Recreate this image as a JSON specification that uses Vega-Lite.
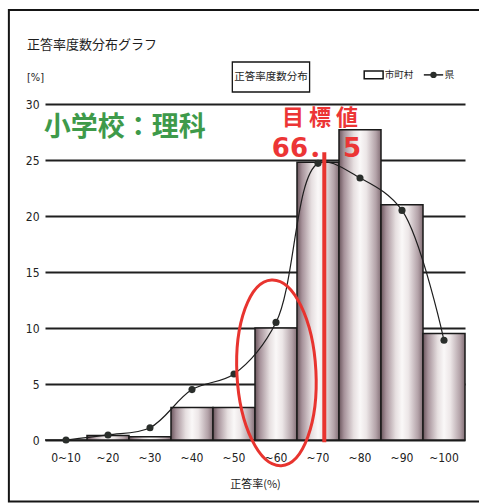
{
  "$schema": "https://vega.github.io/schema/vega-lite/v6.json",
  "width": 420,
  "height": 336,
  "autosize": {"type": "none"},
  "padding": {"left": 45, "top": 104, "right": 14, "bottom": 63},
  "background": "white",
  "config": {
    "view": {"stroke": null},
    "font": "Noto Sans CJK JP",
    "axisY": {
      "values": [0, 5, 10, 15, 20, 25, 30],
      "grid": true,
      "gridColor": "#1f1f1f",
      "gridWidth": 1.8,
      "domain": false,
      "ticks": false,
      "labelFont": "Liberation Sans Narrow, DejaVu Sans Condensed, sans-serif",
      "labelFontSize": 12,
      "labelColor": "#222",
      "labelPadding": 6
    }
  },
  "layer": [
    {
      "data": {
        "values": [
          {"range": "0~10", "city": 0, "pref": 0},
          {"range": "~20", "city": 0.4, "pref": 0.45},
          {"range": "~30", "city": 0.3, "pref": 1.1},
          {"range": "~40", "city": 2.9, "pref": 4.5},
          {"range": "~50", "city": 2.9, "pref": 5.9},
          {"range": "~60", "city": 10.0, "pref": 10.5},
          {"range": "~70", "city": 24.8, "pref": 24.7},
          {"range": "~80", "city": 27.7, "pref": 23.4},
          {"range": "~90", "city": 21.0, "pref": 20.5},
          {"range": "~100", "city": 9.5, "pref": 8.9}
        ]
      },
      "encoding": {
        "x": {
          "field": "range",
          "type": "ordinal",
          "sort": null,
          "scale": {"paddingInner": 0, "paddingOuter": 0},
          "axis": {
            "title": "正答率(%)",
            "labelAngle": 0,
            "ticks": false,
            "domain": false,
            "labelPadding": 12,
            "labelFont": "Liberation Sans Narrow, DejaVu Sans Condensed, sans-serif",
            "labelFontSize": 12,
            "labelColor": "#222",
            "titleFont": "Noto Sans CJK JP",
            "titleFontSize": 11,
            "titleFontWeight": "normal",
            "titleColor": "#222",
            "titlePadding": 15
          }
        }
      },
      "layer": [
        {
          "mark": {
            "type": "bar",
            "stroke": "#1a1a1a",
            "strokeWidth": 1.5,
            "fill": {
              "gradient": "linear",
              "x1": 0, "y1": 0, "x2": 1, "y2": 0,
              "stops": [
                {"offset": 0, "color": "#6b565d"},
                {"offset": 0.12, "color": "#a6929a"},
                {"offset": 0.35, "color": "#e6dfe0"},
                {"offset": 0.5, "color": "#faf8f8"},
                {"offset": 0.65, "color": "#ece6e7"},
                {"offset": 0.88, "color": "#b3a2a8"},
                {"offset": 1, "color": "#836f76"}
              ]
            }
          },
          "encoding": {
            "y": {"field": "city", "type": "quantitative", "scale": {"domain": [0, 30], "nice": false}, "axis": {"title": null}}
          }
        },
        {
          "mark": {"type": "line", "interpolate": "catmull-rom", "color": "#1e1e1e", "strokeWidth": 1.2},
          "encoding": {
            "y": {"field": "pref", "type": "quantitative", "scale": {"domain": [0, 30], "nice": false}, "axis": {"title": null}}
          }
        },
        {
          "mark": {"type": "point", "filled": true, "color": "#2a2e2b", "size": 50, "opacity": 1},
          "encoding": {
            "y": {"field": "pref", "type": "quantitative", "scale": {"domain": [0, 30], "nice": false}, "axis": {"title": null}}
          }
        }
      ]
    },
    {
      "data": {"values": [{}]},
      "layer": [
        {
          "mark": {"type": "rect", "fill": null, "stroke": "#151515", "strokeWidth": 2},
          "encoding": {
            "x": {"datum": -8.6, "type": "quantitative", "scale": {"domain": [0, 100]}, "axis": null},
            "x2": {"datum": 110},
            "y": {"datum": 38.4, "type": "quantitative", "scale": {"domain": [0, 30], "nice": false}, "axis": null},
            "y2": {"datum": -5.5}
          }
        },
        {
          "mark": {"type": "text", "text": "正答率度数分布グラフ", "font": "Noto Sans CJK JP", "fontSize": 13, "color": "#1e1e1e", "align": "left", "baseline": "middle"},
          "encoding": {
            "x": {"datum": -4.3, "type": "quantitative", "scale": {"domain": [0, 100]}, "axis": null},
            "y": {"datum": 35.27, "type": "quantitative", "scale": {"domain": [0, 30], "nice": false}, "axis": null}
          }
        },
        {
          "mark": {"type": "text", "text": "[%]", "font": "Liberation Sans Narrow, DejaVu Sans Condensed, sans-serif", "fontSize": 11, "color": "#1e1e1e", "align": "left", "baseline": "middle"},
          "encoding": {
            "x": {"datum": -4.3, "type": "quantitative", "scale": {"domain": [0, 100]}, "axis": null},
            "y": {"datum": 32.3, "type": "quantitative", "scale": {"domain": [0, 30], "nice": false}, "axis": null}
          }
        },
        {
          "mark": {"type": "rect", "fill": "white", "stroke": "#151515", "strokeWidth": 1.3},
          "encoding": {
            "x": {"datum": 44.6, "type": "quantitative", "scale": {"domain": [0, 100]}, "axis": null},
            "x2": {"datum": 63.0},
            "y": {"datum": 33.75, "type": "quantitative", "scale": {"domain": [0, 30], "nice": false}, "axis": null},
            "y2": {"datum": 31.07}
          }
        },
        {
          "mark": {"type": "text", "text": "正答率度数分布", "font": "Noto Sans CJK JP", "fontSize": 10.5, "color": "#1e1e1e", "align": "center", "baseline": "middle"},
          "encoding": {
            "x": {"datum": 53.8, "type": "quantitative", "scale": {"domain": [0, 100]}, "axis": null},
            "y": {"datum": 32.41, "type": "quantitative", "scale": {"domain": [0, 30], "nice": false}, "axis": null}
          }
        },
        {
          "mark": {"type": "rect", "fill": "white", "stroke": "#151515", "strokeWidth": 1.5},
          "encoding": {
            "x": {"datum": 76.0, "type": "quantitative", "scale": {"domain": [0, 100]}, "axis": null},
            "x2": {"datum": 80.5},
            "y": {"datum": 32.95, "type": "quantitative", "scale": {"domain": [0, 30], "nice": false}, "axis": null},
            "y2": {"datum": 32.25}
          }
        },
        {
          "mark": {"type": "text", "text": "市町村", "font": "Noto Sans CJK JP", "fontSize": 9.5, "color": "#1e1e1e", "align": "left", "baseline": "middle"},
          "encoding": {
            "x": {"datum": 80.9, "type": "quantitative", "scale": {"domain": [0, 100]}, "axis": null},
            "y": {"datum": 32.6, "type": "quantitative", "scale": {"domain": [0, 30], "nice": false}, "axis": null}
          }
        },
        {
          "mark": {"type": "rule", "color": "#1e1e1e", "strokeWidth": 1.5},
          "encoding": {
            "x": {"datum": 90.2, "type": "quantitative", "scale": {"domain": [0, 100]}, "axis": null},
            "x2": {"datum": 94.8},
            "y": {"datum": 32.6, "type": "quantitative", "scale": {"domain": [0, 30], "nice": false}, "axis": null}
          }
        },
        {
          "mark": {"type": "point", "filled": true, "color": "#2a2e2b", "size": 40, "opacity": 1},
          "encoding": {
            "x": {"datum": 92.5, "type": "quantitative", "scale": {"domain": [0, 100]}, "axis": null},
            "y": {"datum": 32.6, "type": "quantitative", "scale": {"domain": [0, 30], "nice": false}, "axis": null}
          }
        },
        {
          "mark": {"type": "text", "text": "県", "font": "Noto Sans CJK JP", "fontSize": 9.5, "color": "#1e1e1e", "align": "left", "baseline": "middle"},
          "encoding": {
            "x": {"datum": 95.2, "type": "quantitative", "scale": {"domain": [0, 100]}, "axis": null},
            "y": {"datum": 32.6, "type": "quantitative", "scale": {"domain": [0, 30], "nice": false}, "axis": null}
          }
        },
        {
          "mark": {"type": "text", "text": "小学校：理科", "font": "Noto Sans CJK JP", "fontSize": 27, "fontWeight": "bold", "color": "#3e9a4a", "align": "center", "baseline": "middle"},
          "encoding": {
            "x": {"datum": 19.0, "type": "quantitative", "scale": {"domain": [0, 100]}, "axis": null},
            "y": {"datum": 27.9, "type": "quantitative", "scale": {"domain": [0, 30], "nice": false}, "axis": null}
          }
        },
        {
          "mark": {"type": "text", "text": "目 標 値", "font": "Noto Sans CJK JP", "fontSize": 22, "fontWeight": "bold", "color": "#ec3535", "align": "center", "baseline": "middle"},
          "encoding": {
            "x": {"datum": 65.5, "type": "quantitative", "scale": {"domain": [0, 100]}, "axis": null},
            "y": {"datum": 28.75, "type": "quantitative", "scale": {"domain": [0, 30], "nice": false}, "axis": null}
          }
        },
        {
          "mark": {"type": "text", "text": "66． 5", "font": "DejaVu Sans, Noto Sans CJK JP", "fontSize": 26, "fontWeight": "bold", "color": "#ec3535", "align": "left", "baseline": "middle"},
          "encoding": {
            "x": {"datum": 54.0, "type": "quantitative", "scale": {"domain": [0, 100]}, "axis": null},
            "y": {"datum": 25.98, "type": "quantitative", "scale": {"domain": [0, 30], "nice": false}, "axis": null}
          }
        },
        {
          "mark": {"type": "rule", "color": "#e8342f", "strokeWidth": 4},
          "encoding": {
            "x": {"datum": 66.5, "type": "quantitative", "scale": {"domain": [0, 100]}, "axis": null},
            "y": {"datum": 25.7, "type": "quantitative", "scale": {"domain": [0, 30], "nice": false}, "axis": null},
            "y2": {"datum": -0.2}
          }
        },
        {
          "mark": {
            "type": "point",
            "shape": "M -0.425 0 A 0.425 1 0 1 0 0.425 0 A 0.425 1 0 1 0 -0.425 0 Z",
            "filled": false,
            "stroke": "#e8342f",
            "strokeWidth": 3,
            "size": 34596,
            "angle": 357,
            "opacity": 1
          },
          "encoding": {
            "x": {"datum": 55.1, "type": "quantitative", "scale": {"domain": [0, 100]}, "axis": null},
            "y": {"datum": 6.0, "type": "quantitative", "scale": {"domain": [0, 30], "nice": false}, "axis": null}
          }
        }
      ]
    }
  ],
  "resolve": {"scale": {"x": "independent", "y": "independent"}}
}
